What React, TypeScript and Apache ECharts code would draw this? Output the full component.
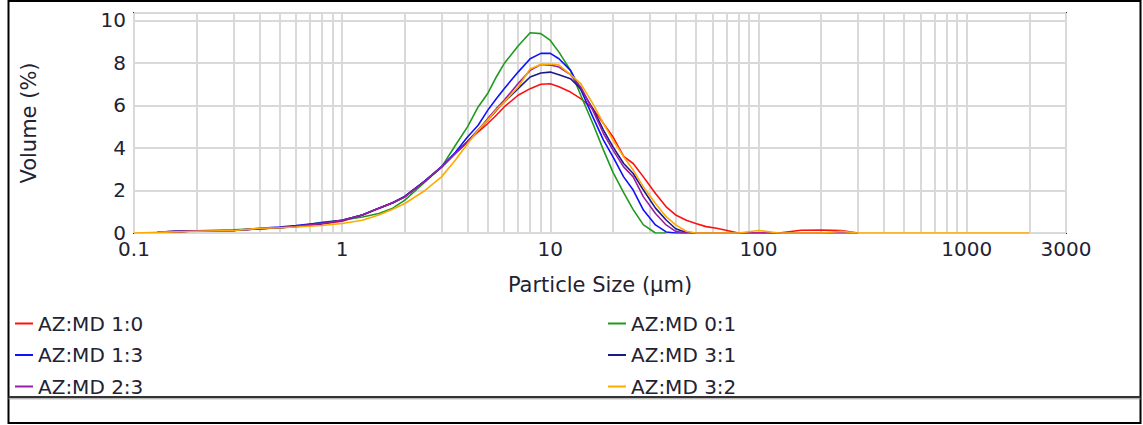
import React, { useEffect, useRef } from "react";
import * as echarts from "echarts";

// Particle size (µm) at which each volume value is read
const sizes = [0.1, 0.13, 0.2, 0.3, 0.4, 0.5, 0.6, 0.8, 1, 1.25, 1.5, 1.75, 2, 2.5, 3, 3.5, 4, 4.5, 5, 5.5, 6, 7, 8, 9, 10, 11, 12.5, 14, 16, 18, 20, 22.5, 25, 28, 32, 36, 40, 45, 50, 56, 63, 80, 100, 125, 160, 200, 250, 300, 500, 1000, 2000];

const azmd10 = [null, 0.04, 0.1, 0.12, 0.2, 0.25, 0.3, 0.42, 0.55, 0.85, 1.15, 1.42, 1.7, 2.44, 3.1, 3.75, 4.3, 4.76, 5.15, 5.54, 5.93, 6.48, 6.79, 7.0, 7.02, 6.88, 6.63, 6.32, 5.85, 5.15, 4.52, 3.6, 3.27, 2.64, 1.86, 1.23, 0.85, 0.6, 0.45, 0.3, 0.22, 0, 0, 0, 0.13, 0.14, 0.12, 0, null, null, null];
const azmd01 = [null, 0.05, 0.1, 0.15, 0.2, 0.25, 0.3, 0.5, 0.6, 0.75, 0.92, 1.17, 1.55, 2.4, 3.1, 4.13, 4.99, 5.93, 6.56, 7.34, 7.97, 8.8, 9.42, 9.38, 9.06, 8.51, 7.65, 6.48, 5.15, 3.9, 2.85, 1.9, 1.1, 0.38, 0, 0, null, null, null, null, null, null, null, null, null, null, null, null, null, null, null];
const azmd13 = [null, 0.04, 0.1, 0.12, 0.22, 0.28, 0.35, 0.48, 0.6, 0.85, 1.17, 1.42, 1.72, 2.45, 3.12, 3.8, 4.52, 5.07, 5.77, 6.32, 6.79, 7.57, 8.2, 8.45, 8.45, 8.2, 7.65, 6.75, 5.46, 4.37, 3.58, 2.64, 2.02, 1.08, 0.38, 0.05, 0, 0, null, null, null, null, null, null, null, null, null, null, null, null, null];
const azmd31 = [null, 0.04, 0.1, 0.12, 0.2, 0.25, 0.32, 0.45, 0.6, 0.85, 1.17, 1.42, 1.72, 2.45, 3.1, 3.75, 4.3, 4.84, 5.31, 5.77, 6.16, 6.79, 7.34, 7.53, 7.57, 7.45, 7.26, 6.79, 5.85, 4.84, 4.05, 3.27, 2.8, 2.02, 1.17, 0.61, 0.2, 0.02, 0, null, null, null, null, null, null, null, null, null, null, null, null];
const azmd23 = [null, 0.04, 0.1, 0.12, 0.2, 0.25, 0.32, 0.45, 0.6, 0.85, 1.17, 1.42, 1.7, 2.44, 3.11, 3.75, 4.29, 4.84, 5.38, 5.85, 6.24, 7.03, 7.65, 7.93, 7.9, 7.81, 7.45, 6.87, 5.77, 4.68, 3.9, 3.11, 2.64, 1.7, 0.92, 0.38, 0.08, 0, 0, 0, 0, 0, 0, 0, 0, 0, 0, 0, null, null, null];
const azmd32 = [0, 0.03, 0.08, 0.12, 0.22, 0.25, 0.28, 0.35, 0.45, 0.6, 0.85, 1.12, 1.39, 2.0, 2.64, 3.43, 4.2, 4.84, 5.31, 5.8, 6.16, 6.87, 7.72, 7.93, 7.95, 7.9, 7.45, 7.03, 6.09, 5.15, 4.37, 3.58, 2.96, 2.17, 1.39, 0.77, 0.38, 0.08, 0, 0, 0, 0, 0.12, 0, 0, 0, 0.08, 0, 0, 0, 0];

const seriesNames = ["AZ:MD 1:0", "AZ:MD 0:1", "AZ:MD 1:3", "AZ:MD 3:1", "AZ:MD 2:3", "AZ:MD 3:2"];
const seriesValues = [azmd10, azmd01, azmd13, azmd31, azmd23, azmd32];
const seriesColors = ["#ff1010", "#1f9a1f", "#1010ff", "#1a1a8a", "#9a1fa8", "#ffaa00"];
const legendLeft = ["AZ:MD 1:0", "AZ:MD 1:3", "AZ:MD 2:3"];
const legendRight = ["AZ:MD 0:1", "AZ:MD 3:1", "AZ:MD 3:2"];

// Minor logarithmic grid positions
const minorTicks = [0.2, 0.3, 0.4, 0.5, 0.6, 0.7, 0.8, 0.9, 2, 3, 4, 5, 6, 7, 8, 9, 20, 30, 40, 50, 60, 70, 80, 90, 200, 300, 400, 500, 600, 700, 800, 900, 2000];

const FONT = "DejaVu Sans";
const TEXT = "#222233";
const GRID = "#d9d9d9";

export default function App() {
  const ref = useRef<HTMLDivElement>(null);
  useEffect(() => {
    if (!ref.current) return;
    const chart = echarts.init(ref.current, undefined, { renderer: "svg" });
    const legendCommon = {
      orient: "vertical",
      top: 307.5,
      itemWidth: 18,
      itemHeight: 2,
      itemGap: 9.5,
      icon: "rect",
      selectedMode: false,
      textStyle: { fontFamily: FONT, fontSize: 20, color: TEXT, lineHeight: 22 },
    };
    chart.setOption({
      animation: false,
      backgroundColor: "#ffffff",
      grid: {
        left: 134,
        top: 13,
        width: 932,
        height: 220,
        show: true,
        borderColor: "#333333",
        borderWidth: 2,
        backgroundColor: "transparent",
      },
      legend: [
        { ...legendCommon, left: 10, data: legendLeft },
        { ...legendCommon, left: 603, data: legendRight },
      ],
      xAxis: {
        type: "log",
        logBase: 10,
        min: 0.1,
        max: 3000,
        axisLine: { show: false },
        axisTick: { show: false },
        axisLabel: {
          fontFamily: FONT,
          fontSize: 20,
          color: TEXT,
          margin: 6,
          formatter: (v: number) => String(v),
        },
        splitLine: { show: true, lineStyle: { color: GRID, width: 2 } },
        name: "Particle Size (µm)",
        nameLocation: "middle",
        nameGap: 41,
        nameTextStyle: { fontFamily: FONT, fontSize: 21, color: TEXT },
      },
      yAxis: {
        type: "value",
        min: 0,
        max: 10.35,
        interval: 2,
        axisLine: { show: false },
        axisTick: { show: false },
        axisLabel: {
          fontFamily: FONT,
          fontSize: 20,
          color: TEXT,
          margin: 8,
          showMaxLabel: false,
          formatter: (v: number) => (Math.abs(v % 2) < 1e-9 ? String(v) : ""),
        },
        splitLine: { show: true, lineStyle: { color: GRID, width: 2 } },
        name: "Volume (%)",
        nameLocation: "middle",
        nameGap: 95,
        nameRotate: 90,
        nameTextStyle: { fontFamily: FONT, fontSize: 21, color: TEXT },
      },
      series: [
        {
          name: "minor-grid",
          type: "line",
          data: [],
          z: 1,
          silent: true,
          markLine: {
            z: 1,
            silent: true,
            symbol: ["none", "none"],
            label: { show: false },
            lineStyle: { color: GRID, width: 2, type: "solid" },
            data: minorTicks.map((v) => ({ xAxis: v })),
          },
        },
        ...seriesNames.map((name, k) => ({
          name,
          type: "line",
          z: 3,
          showSymbol: false,
          symbol: "none",
          color: seriesColors[k],
          lineStyle: { color: seriesColors[k], width: 1.6 },
          emphasis: { disabled: true },
          data: sizes.map((s, i) => [s, seriesValues[k][i]]),
        })),
      ],
      graphic: [
        {
          type: "rect",
          shape: { x: 8.5, y: 1, width: 1132, height: 422 },
          style: { fill: "none", stroke: "#000000", lineWidth: 2 },
          silent: true,
        },
        {
          type: "line",
          shape: { x1: 8.5, y1: 397, x2: 1140.5, y2: 397 },
          style: { stroke: "#333333", lineWidth: 2 },
          silent: true,
        },
        {
          type: "line",
          shape: { x1: 8.5, y1: 398.8, x2: 1140.5, y2: 398.8 },
          style: { stroke: "#999999", lineWidth: 1 },
          silent: true,
        },
      ],
    });
    return () => chart.dispose();
  }, []);
  return (
    <div
      ref={ref}
      style={{ position: "absolute", left: 0, top: 0, width: 1143, height: 425, background: "#fff" }}
    />
  );
}
